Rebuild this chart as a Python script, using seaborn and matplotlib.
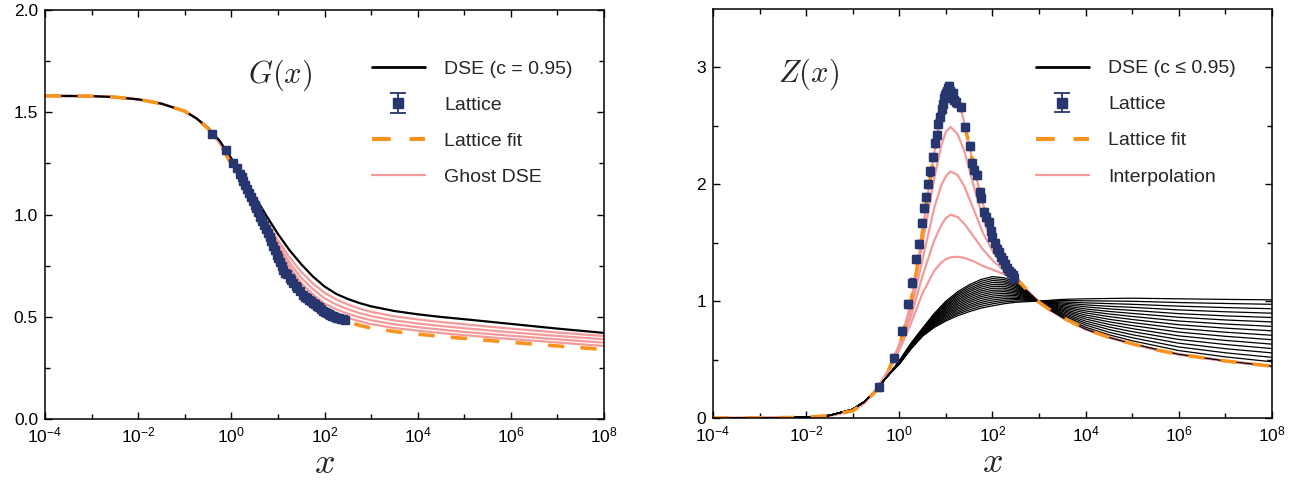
import numpy as np
import pandas as pd
import seaborn as sns
import matplotlib
matplotlib.use("Agg")
import matplotlib.pyplot as plt
from matplotlib.ticker import FixedLocator, FuncFormatter, NullFormatter
from matplotlib.lines import Line2D

# ---------------- data (log10 x grids and values) ----------------
# Left panel: ghost dressing function G(x)
g_logx = [-4, -3, -2.5, -2, -1.5, -1, -0.75, -0.5, -0.25, 0, 0.25, 0.5, 0.75, 1, 1.25, 1.5, 1.75, 2, 2.25, 2.5, 2.75, 3, 3.5, 4, 4.5, 5, 6, 7, 8]
g_dse = [1.58, 1.579, 1.574, 1.563, 1.542, 1.505, 1.47, 1.425, 1.36, 1.275, 1.185, 1.09, 0.995, 0.905, 0.825, 0.757, 0.697, 0.648, 0.612, 0.587, 0.567, 0.551, 0.528, 0.512, 0.499, 0.488, 0.465, 0.442, 0.421]
g_fit = [1.58, 1.579, 1.574, 1.563, 1.542, 1.505, 1.47, 1.42, 1.35, 1.245, 1.155, 1.06, 0.925, 0.79, 0.69, 0.62, 0.57, 0.525, 0.497, 0.475, 0.458, 0.445, 0.428, 0.415, 0.404, 0.394, 0.375, 0.357, 0.34]
g_ghost1 = [1.58, 1.579, 1.574, 1.563, 1.542, 1.505, 1.47, 1.42, 1.35, 1.265, 1.17, 1.07, 0.97, 0.875, 0.79, 0.72, 0.663, 0.617, 0.585, 0.56, 0.54, 0.524, 0.502, 0.487, 0.474, 0.463, 0.442, 0.423, 0.406]
g_ghost2 = [1.58, 1.579, 1.574, 1.563, 1.542, 1.505, 1.47, 1.42, 1.35, 1.258, 1.165, 1.065, 0.96, 0.855, 0.765, 0.69, 0.635, 0.59, 0.56, 0.537, 0.518, 0.503, 0.482, 0.467, 0.455, 0.444, 0.424, 0.406, 0.39]
g_ghost3 = [1.58, 1.579, 1.574, 1.563, 1.542, 1.505, 1.47, 1.42, 1.35, 1.252, 1.16, 1.06, 0.95, 0.84, 0.745, 0.665, 0.61, 0.565, 0.537, 0.515, 0.497, 0.483, 0.463, 0.449, 0.437, 0.426, 0.407, 0.39, 0.373]
g_ghost4 = [1.58, 1.579, 1.574, 1.563, 1.542, 1.505, 1.47, 1.42, 1.35, 1.248, 1.157, 1.06, 0.94, 0.82, 0.72, 0.642, 0.588, 0.543, 0.516, 0.495, 0.478, 0.464, 0.445, 0.432, 0.42, 0.41, 0.391, 0.374, 0.357]

g_lat_logx = [-0.42, -0.12, 0.04, 0.12, 0.18, 0.22, 0.26, 0.3, 0.34, 0.38, 0.42, 0.46, 0.5, 0.54, 0.58, 0.62, 0.66, 0.7, 0.74, 0.78,
              0.82, 0.86, 0.9, 0.94, 0.98, 1.01, 1.04, 1.08, 1.11, 1.15, 1.19, 1.26, 1.29, 1.33, 1.38, 1.42, 1.48, 1.54, 1.58, 1.62,
              1.66, 1.7, 1.76, 1.8, 1.84, 1.88, 1.92, 1.97, 2.01, 2.05, 2.09, 2.12, 2.16, 2.19, 2.23, 2.27, 2.31, 2.35, 2.39, 2.44]
g_lat = [1.394, 1.315, 1.25, 1.225, 1.20, 1.185, 1.165, 1.145, 1.125, 1.105, 1.085, 1.068, 1.048, 1.03, 1.012, 0.99, 0.97, 0.948, 0.93, 0.908,
         0.888, 0.868, 0.845, 0.825, 0.803, 0.786, 0.77, 0.75, 0.729, 0.715, 0.709, 0.69, 0.68, 0.664, 0.652, 0.64, 0.625, 0.606, 0.598, 0.59,
         0.582, 0.575, 0.566, 0.56, 0.552, 0.546, 0.538, 0.53, 0.525, 0.519, 0.514, 0.51, 0.506, 0.502, 0.499, 0.495, 0.492, 0.489, 0.487, 0.484]
g_lat_err = [0.012] * len(g_lat)

# Right panel: gluon dressing function Z(x)
z_logx = [-4, -3, -2.5, -2, -1.5, -1, -0.75, -0.5, -0.25, 0, 0.125, 0.25, 0.375, 0.5, 0.625, 0.75, 0.875, 1, 1.1, 1.25, 1.375, 1.5,
          1.625, 1.75, 1.875, 2, 2.25, 2.5, 2.75, 3, 3.25, 3.5, 4, 4.5, 5, 5.5, 6, 7, 8]
z_fit = [0, 0.001, 0.003, 0.006, 0.02, 0.062, 0.125, 0.235, 0.39, 0.62, 0.79, 1.0, 1.27, 1.6, 1.95, 2.27, 2.55, 2.74, 2.8, 2.74, 2.56, 2.33,
         2.1, 1.9, 1.72, 1.56, 1.34, 1.2, 1.09, 0.99, 0.92, 0.86, 0.76, 0.69, 0.635, 0.585, 0.545, 0.488, 0.443]

zi_logx = [-4, -3, -2, -1.5, -1, -0.75, -0.5, -0.25, 0, 0.25, 0.5, 0.75, 0.9, 1.0, 1.1, 1.25, 1.4, 1.6, 1.8, 2, 2.25, 2.5,
           2.75, 3, 3.5, 4, 4.5, 5, 5.5, 6, 7, 8]
z_interp1 = [0, 0.001, 0.006, 0.02, 0.065, 0.13, 0.24, 0.40, 0.63, 0.97, 1.5, 2.05, 2.33, 2.45, 2.49, 2.43, 2.28, 1.98, 1.70, 1.50, 1.32, 1.2,
             1.09, 0.99, 0.86, 0.76, 0.69, 0.635, 0.585, 0.545, 0.488, 0.443]
z_interp2 = [0, 0.001, 0.006, 0.02, 0.065, 0.13, 0.24, 0.40, 0.61, 0.92, 1.36, 1.80, 1.99, 2.07, 2.11, 2.08, 1.98, 1.78, 1.58, 1.43, 1.29, 1.2,
             1.09, 0.99, 0.86, 0.76, 0.69, 0.635, 0.585, 0.545, 0.488, 0.443]
z_interp3 = [0, 0.001, 0.006, 0.02, 0.065, 0.13, 0.24, 0.395, 0.60, 0.87, 1.22, 1.52, 1.65, 1.71, 1.74, 1.72, 1.66, 1.55, 1.44, 1.35, 1.26, 1.2,
             1.09, 0.99, 0.86, 0.76, 0.69, 0.635, 0.585, 0.545, 0.488, 0.443]
z_interp4 = [0, 0.001, 0.006, 0.02, 0.065, 0.13, 0.24, 0.39, 0.58, 0.81, 1.07, 1.26, 1.33, 1.36, 1.375, 1.38, 1.37, 1.34, 1.30, 1.27, 1.23, 1.2,
             1.09, 0.99, 0.86, 0.76, 0.69, 0.635, 0.585, 0.545, 0.488, 0.443]

# DSE family (16 curves, c <= 0.95): one list per x position, curve 0 = c = 0.95 ... curve 15 = smallest c
z_dse_logx = [-4, -3, -2, -1.5, -1, -0.75, -0.5, -0.25, 0, 0.25, 0.5, 0.75, 1, 1.25, 1.5, 1.75, 2, 2.25, 2.5, 2.75,
              3, 3.25, 3.5, 4, 4.5, 5, 6, 7, 8]
z_dse_cols = [
    [0.0] * 16,
    [0.001] * 16,
    [0.006] * 16,
    [0.022] * 16,
    [0.075] * 16,
    [0.14] * 16,
    [0.24] * 16,
    [0.36] * 16,
    [0.490, 0.488, 0.486, 0.484, 0.482, 0.480, 0.478, 0.476, 0.474, 0.472, 0.470, 0.468, 0.466, 0.464, 0.462, 0.460],
    [0.640, 0.637, 0.633, 0.630, 0.627, 0.623, 0.620, 0.617, 0.613, 0.610, 0.607, 0.603, 0.600, 0.597, 0.593, 0.590],
    [0.770, 0.765, 0.761, 0.756, 0.751, 0.747, 0.742, 0.737, 0.733, 0.728, 0.723, 0.719, 0.714, 0.709, 0.705, 0.700],
    [0.895, 0.887, 0.879, 0.871, 0.863, 0.855, 0.847, 0.839, 0.831, 0.823, 0.815, 0.807, 0.799, 0.791, 0.783, 0.775],
    [1.000, 0.989, 0.977, 0.966, 0.955, 0.943, 0.932, 0.921, 0.909, 0.898, 0.887, 0.875, 0.864, 0.853, 0.841, 0.830],
    [1.080, 1.066, 1.053, 1.039, 1.025, 1.012, 0.998, 0.984, 0.971, 0.957, 0.943, 0.930, 0.916, 0.902, 0.889, 0.875],
    [1.140, 1.125, 1.109, 1.094, 1.079, 1.063, 1.048, 1.033, 1.017, 1.002, 0.987, 0.971, 0.956, 0.941, 0.925, 0.910],
    [1.185, 1.169, 1.152, 1.136, 1.120, 1.103, 1.087, 1.071, 1.054, 1.038, 1.022, 1.005, 0.989, 0.973, 0.956, 0.940],
    [1.210, 1.193, 1.177, 1.160, 1.143, 1.127, 1.110, 1.093, 1.077, 1.060, 1.043, 1.027, 1.010, 0.993, 0.977, 0.960],
    [1.200, 1.185, 1.170, 1.156, 1.141, 1.126, 1.111, 1.096, 1.082, 1.067, 1.052, 1.037, 1.022, 1.008, 0.993, 0.978],
    [1.160, 1.149, 1.137, 1.126, 1.115, 1.103, 1.092, 1.081, 1.069, 1.058, 1.047, 1.035, 1.024, 1.013, 1.001, 0.990],
    [1.085, 1.079, 1.073, 1.067, 1.061, 1.055, 1.049, 1.043, 1.038, 1.032, 1.026, 1.020, 1.014, 1.008, 1.002, 0.996],
    [0.990, 0.991, 0.991, 0.992, 0.993, 0.993, 0.994, 0.995, 0.995, 0.996, 0.997, 0.997, 0.998, 0.999, 0.999, 1.000],
    [0.920, 0.926, 0.932, 0.937, 0.943, 0.949, 0.955, 0.961, 0.967, 0.973, 0.979, 0.985, 0.990, 0.996, 1.002, 1.008],
    [0.860, 0.870, 0.881, 0.891, 0.901, 0.912, 0.922, 0.932, 0.943, 0.953, 0.963, 0.974, 0.984, 0.994, 1.005, 1.015],
    [0.760, 0.777, 0.795, 0.812, 0.829, 0.847, 0.864, 0.881, 0.899, 0.916, 0.933, 0.951, 0.968, 0.985, 1.003, 1.020],
    [0.690, 0.712, 0.734, 0.757, 0.779, 0.801, 0.823, 0.845, 0.868, 0.890, 0.912, 0.934, 0.956, 0.979, 1.001, 1.023],
    [0.635, 0.661, 0.687, 0.713, 0.739, 0.765, 0.791, 0.817, 0.843, 0.869, 0.895, 0.921, 0.947, 0.973, 0.999, 1.025],
    [0.545, 0.577, 0.608, 0.640, 0.672, 0.703, 0.735, 0.767, 0.798, 0.830, 0.862, 0.893, 0.925, 0.957, 0.988, 1.020],
    [0.488, 0.523, 0.558, 0.593, 0.629, 0.664, 0.699, 0.734, 0.769, 0.804, 0.839, 0.874, 0.909, 0.945, 0.980, 1.015],
    [0.443, 0.481, 0.519, 0.557, 0.594, 0.632, 0.670, 0.708, 0.746, 0.784, 0.822, 0.860, 0.897, 0.935, 0.973, 1.011],
]

z_lat_logx = [-0.44, -0.12, 0.057, 0.18, 0.28, 0.35, 0.43, 0.48, 0.53, 0.57, 0.61, 0.66, 0.72, 0.77, 0.8, 0.84, 0.88, 0.91, 0.93, 0.96,
              0.98, 1.0, 1.02, 1.04, 1.06, 1.08, 1.1, 1.12, 1.15, 1.18, 1.22, 1.33, 1.42, 1.51, 1.55, 1.6, 1.66, 1.73, 1.76, 1.82,
              1.87, 1.93, 1.97, 2.0, 2.05, 2.1, 2.13, 2.18, 2.22, 2.27, 2.32, 2.36, 2.4, 2.44, 2.47]
z_lat = [0.267, 0.514, 0.747, 0.977, 1.159, 1.36, 1.486, 1.67, 1.80, 1.89, 2.0, 2.11, 2.23, 2.35, 2.42, 2.52, 2.58, 2.64, 2.69, 2.74,
         2.76, 2.78, 2.80, 2.82, 2.84, 2.80, 2.76, 2.74, 2.78, 2.72, 2.70, 2.66, 2.49, 2.33, 2.18, 2.12, 2.08, 1.93, 1.88, 1.76,
         1.72, 1.68, 1.60, 1.55, 1.50, 1.45, 1.42, 1.38, 1.35, 1.32, 1.28, 1.26, 1.24, 1.22, 1.20]
z_lat_err = [0.035] * len(z_lat)

x_tick_exps = [-4, -2, 0, 2, 4, 6, 8]

# ---------------- style ----------------
sns.set_theme(style="ticks")
plt.rcParams["font.family"] = ["Liberation Sans", "DejaVu Sans"]
plt.rcParams["mathtext.fontset"] = "cm"
plt.rcParams["axes.linewidth"] = 1.1
plt.rcParams["axes.edgecolor"] = "black"

NAVY = "#27366f"
ORANGE = "#f7941d"
PINK = "#f49a9a"

fig = plt.figure(figsize=(13.04, 4.87), dpi=100)
axL = fig.add_axes([45 / 1304, 1 - 419 / 487, 559 / 1304, 409 / 487])
axR = fig.add_axes([713 / 1304, 1 - 418 / 487, 559 / 1304, 409 / 487])


def xs(logx):
    return [10.0 ** v for v in logx]


def line(ax, logx, y, **kw):
    sns.lineplot(x=xs(logx), y=y, ax=ax, estimator=None, sort=False, **kw)


def lattice_handle(ax):
    return ax.errorbar([np.nan], [np.nan], yerr=[0.1], fmt="s", color=NAVY, ms=7,
                       elinewidth=1.3, capsize=6, capthick=1.3)


def style_axes(ax, ymajor, yminor, yfmt, ylim):
    ax.set_xscale("log")
    ax.set_xlim(1e-4, 1e8)
    ax.set_ylim(*ylim)
    ax.xaxis.set_major_locator(FixedLocator([10.0 ** e for e in x_tick_exps]))
    ax.xaxis.set_minor_locator(FixedLocator([10.0 ** e for e in range(-3, 8, 2)]))
    ax.xaxis.set_minor_formatter(NullFormatter())
    ax.xaxis.set_major_formatter(FuncFormatter(lambda v, p: r"$\mathregular{10^{%d}}$" % round(np.log10(v))))
    ax.yaxis.set_major_locator(FixedLocator(ymajor))
    ax.yaxis.set_minor_locator(FixedLocator(yminor))
    ax.yaxis.set_major_formatter(FuncFormatter(yfmt))
    ax.tick_params(which="both", direction="in", top=True, right=True, width=1.0, colors="black", labelsize=12.5)
    ax.tick_params(which="major", length=5, pad=5)
    ax.tick_params(which="minor", length=3.5)
    for s in ax.spines.values():
        s.set_visible(True)
        s.set_color("black")
    ax.set_xlabel(r"$x$", fontsize=26, labelpad=0)
    ax.set_ylabel("")


legend_kw = dict(loc="upper left", frameon=False, fontsize=14, handlelength=2.7, handletextpad=1.0,
                 labelspacing=0.95, borderpad=0, borderaxespad=0)

# ---------------- left panel ----------------
for gh in [g_ghost1, g_ghost2, g_ghost3, g_ghost4]:
    line(axL, g_logx, gh, color=PINK, lw=1.6)
line(axL, g_logx, g_dse, color="black", lw=1.6)
line(axL, g_logx, g_fit, color=ORANGE, lw=2.6, dashes=(4.5, 4.5))
axL.errorbar(xs(g_lat_logx), g_lat, yerr=g_lat_err, fmt="s", color=NAVY, ms=5.5, elinewidth=1.0, capsize=2, zorder=5)

hL = [Line2D([], [], color="black", lw=2.0), lattice_handle(axL),
      Line2D([], [], color=ORANGE, lw=3, dashes=(4.5, 4.5)), Line2D([], [], color=PINK, lw=1.6)]
axL.legend(hL, ["DSE (c = 0.95)", "Lattice", "Lattice fit", "Ghost DSE"], bbox_to_anchor=(0.585, 0.878), **legend_kw)
axL.text(0.42, 0.84, r"$G(x)$", transform=axL.transAxes, fontsize=22, ha="center", va="center")
style_axes(axL, [0, 0.5, 1.0, 1.5, 2.0], [0.25, 0.75, 1.25, 1.75], lambda v, p: "%.1f" % v, (0, 2.0))

# ---------------- right panel ----------------
for zi in [z_interp4, z_interp3, z_interp2, z_interp1]:
    line(axR, zi_logx, zi, color=PINK, lw=1.6)
line(axR, z_logx, z_fit, color=PINK, lw=1.6)
fam = pd.DataFrame([(10.0 ** lx, v, k) for lx, col in zip(z_dse_logx, z_dse_cols) for k, v in enumerate(col)],
                   columns=["x", "z", "curve"])
sns.lineplot(data=fam, x="x", y="z", hue="curve", units="curve", estimator=None,
             palette=["black"] * 16, lw=0.9, legend=False, ax=axR)
line(axR, z_logx, z_fit, color=ORANGE, lw=2.6, dashes=(4.5, 4.5))
axR.errorbar(xs(z_lat_logx), z_lat, yerr=z_lat_err, fmt="s", color=NAVY, ms=5.5, elinewidth=1.0, capsize=2, zorder=5)

hR = [Line2D([], [], color="black", lw=2.0), lattice_handle(axR),
      Line2D([], [], color=ORANGE, lw=3, dashes=(4.5, 4.5)), Line2D([], [], color=PINK, lw=1.6)]
axR.legend(hR, ["DSE (c \u2264 0.95)", "Lattice", "Lattice fit", "Interpolation"], bbox_to_anchor=(0.578, 0.876), **legend_kw)
axR.text(0.17, 0.84, r"$Z(x)$", transform=axR.transAxes, fontsize=22, ha="center", va="center")
style_axes(axR, [0, 1, 2, 3], [0.5, 1.5, 2.5], lambda v, p: "%d" % round(v), (0, 3.5))

fig.savefig("out.png", dpi=100)
